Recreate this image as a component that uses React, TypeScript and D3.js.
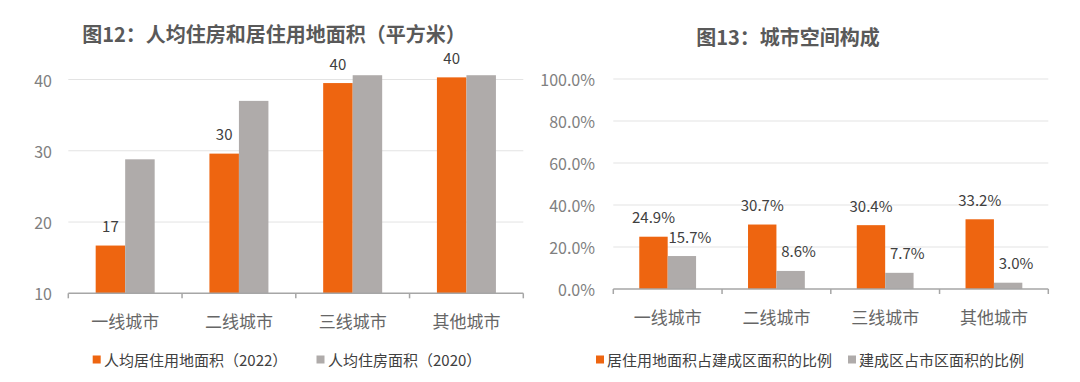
import React from "react";
import * as d3 from "d3";

const categories = ["一线城市", "二线城市", "三线城市", "其他城市"];

// Chart 12
const title12 = "图12：人均住房和居住用地面积（平方米）";
const landArea2022 = [16.7, 29.6, 39.5, 40.3];
const landLabels = ["17", "30", "40", "40"];
const houseArea2020 = [28.8, 37.0, 40.6, 40.6];
const ticks12 = [10, 20, 30, 40];
const legend12 = ["人均居住用地面积（2022）", "人均住房面积（2020）"];

// Chart 13
const title13 = "图13：城市空间构成";
const residentialShare = [24.9, 30.7, 30.4, 33.2];
const builtShare = [15.7, 8.6, 7.7, 3.0];
const ticks13 = [0, 20, 40, 60, 80, 100];
const legend13 = ["居住用地面积占建成区面积的比例", "建成区占市区面积的比例"];

const ORANGE = "#EE6510";
const GRAY = "#AFABAA";
const FONT = "'Noto Sans CJK SC', 'Noto Sans', sans-serif";

function Chart12() {
  const x0 = 68.3, x1 = 523.3;
  const x = d3.scaleBand<string>().domain(categories).range([x0, x1]);
  const y = d3.scaleLinear().domain([10, 40]).range([293.3, 79.5]);
  const bw = 29.5;
  return (
    <g>
      <text x={274} y={33} textAnchor="middle" dominantBaseline="central" fontFamily={FONT} fontWeight="bold" fontSize={20} fill="#595959">{title12}</text>
      {ticks12.slice(1).map((t) => (
        <line key={t} x1={x0} x2={x1} y1={y(t)} y2={y(t)} stroke="#E3E3E3" strokeWidth={1} />
      ))}
      {ticks12.map((t) => (
        <text key={t} x={52} y={y(t)} textAnchor="end" dominantBaseline="central" fontFamily={FONT} fontSize={16} fill="#808080">{t}</text>
      ))}
      {categories.map((c, i) => {
        const cx = x(c)! + x.bandwidth() / 2;
        return (
          <g key={c}>
            <rect x={cx - bw} y={y(landArea2022[i])} width={bw} height={y(10) - y(landArea2022[i])} fill={ORANGE} />
            <rect x={cx} y={y(houseArea2020[i])} width={bw} height={y(10) - y(houseArea2020[i])} fill={GRAY} />
            <text x={cx - bw / 2} y={y(landArea2022[i]) - 20} textAnchor="middle" dominantBaseline="central" fontFamily={FONT} fontSize={15} fill="#404040">{landLabels[i]}</text>
            <text x={cx} y={320} textAnchor="middle" dominantBaseline="central" fontFamily={FONT} fontSize={17} fill="#666">{c}</text>
          </g>
        );
      })}
      <line x1={x0} x2={x1} y1={y(10)} y2={y(10)} stroke="#A6A6A6" strokeWidth={1.5} />
      {[...categories.map((c) => x(c)!), x1].map((tx, i) => (
        <line key={i} x1={tx} x2={tx} y1={y(10)} y2={y(10) + 5} stroke="#A6A6A6" strokeWidth={1.5} />
      ))}
      <rect x={92.7} y={355.5} width={8} height={8} fill={ORANGE} />
      <text x={104} y={359.5} dominantBaseline="central" fontFamily={FONT} fontSize={15} fill="#404040">{legend12[0]}</text>
      <rect x={316.5} y={355.5} width={8} height={8} fill={GRAY} />
      <text x={328} y={359.5} dominantBaseline="central" fontFamily={FONT} fontSize={15} fill="#404040">{legend12[1]}</text>
    </g>
  );
}

function Chart13() {
  const x0 = 613.3, x1 = 1048.3;
  const x = d3.scaleBand<string>().domain(categories).range([x0, x1]);
  const y = d3.scaleLinear().domain([0, 100]).range([289, 79]);
  const bw = 28.4;
  const fmt = (v: number) => v.toFixed(1) + "%";
  return (
    <g>
      <text x={788} y={36} textAnchor="middle" dominantBaseline="central" fontFamily={FONT} fontWeight="bold" fontSize={20} fill="#595959">{title13}</text>
      {ticks13.slice(1).map((t) => (
        <line key={t} x1={x0} x2={x1} y1={y(t)} y2={y(t)} stroke="#E3E3E3" strokeWidth={1} />
      ))}
      {ticks13.map((t) => (
        <text key={t} x={595} y={y(t)} textAnchor="end" dominantBaseline="central" fontFamily={FONT} fontSize={16} fill="#808080">{fmt(t)}</text>
      ))}
      {categories.map((c, i) => {
        const cx = x(c)! + x.bandwidth() / 2;
        return (
          <g key={c}>
            <rect x={cx - bw} y={y(residentialShare[i])} width={bw} height={y(0) - y(residentialShare[i])} fill={ORANGE} />
            <rect x={cx} y={y(builtShare[i])} width={bw} height={y(0) - y(builtShare[i])} fill={GRAY} />
            <text x={cx - bw / 2} y={y(residentialShare[i]) - 20} textAnchor="middle" dominantBaseline="central" fontFamily={FONT} fontSize={15} fill="#404040">{fmt(residentialShare[i])}</text>
            <text x={cx + bw / 2 + 8} y={y(builtShare[i]) - 20} textAnchor="middle" dominantBaseline="central" fontFamily={FONT} fontSize={15} fill="#404040">{fmt(builtShare[i])}</text>
            <text x={cx} y={316} textAnchor="middle" dominantBaseline="central" fontFamily={FONT} fontSize={17} fill="#666">{c}</text>
          </g>
        );
      })}
      <line x1={x0} x2={x1} y1={y(0)} y2={y(0)} stroke="#A6A6A6" strokeWidth={1.5} />
      {[...categories.map((c) => x(c)!), x1].map((tx, i) => (
        <line key={i} x1={tx} x2={tx} y1={y(0)} y2={y(0) + 5} stroke="#A6A6A6" strokeWidth={1.5} />
      ))}
      <rect x={596} y={355.5} width={8} height={8} fill={ORANGE} />
      <text x={607} y={359.5} dominantBaseline="central" fontFamily={FONT} fontSize={15} fill="#404040">{legend13[0]}</text>
      <rect x={848} y={355.5} width={8} height={8} fill={GRAY} />
      <text x={859} y={359.5} dominantBaseline="central" fontFamily={FONT} fontSize={15} fill="#404040">{legend13[1]}</text>
    </g>
  );
}

export default function App() {
  return (
    <svg width={1080} height={382} style={{ position: "absolute", left: 0, top: 0, background: "#fff" }}>
      <rect width={1080} height={382} fill="#fff" />
      <Chart12 />
      <Chart13 />
    </svg>
  );
}
